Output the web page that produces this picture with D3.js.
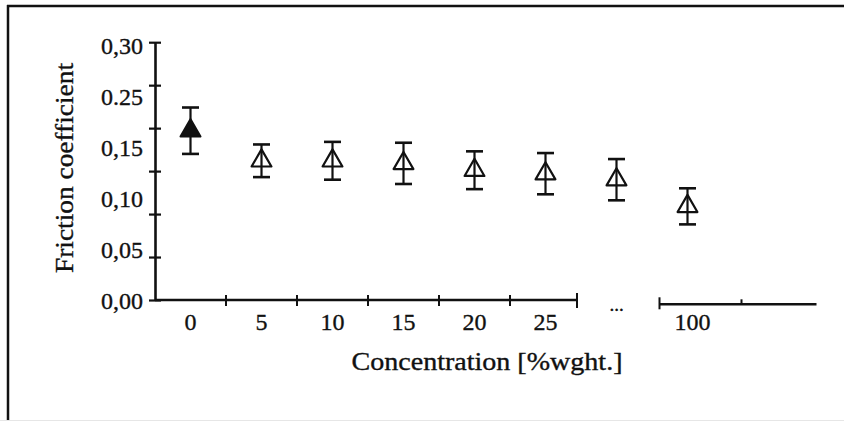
<!DOCTYPE html>
<html>
<head>
<meta charset="utf-8">
<script src="https://cdn.jsdelivr.net/npm/d3@7"></script>
<style>
  html, body { margin: 0; padding: 0; background: #fff; }
  svg { display: block; }
  text { font-family: "Liberation Serif", "Times New Roman", serif; fill: #111; stroke: #111; stroke-width: 0.35px; }
</style>
</head>
<body>
<svg id="chart" width="844" height="421"></svg>
<script>
// Concentration categories (the unlabelled "..." slot is a point on the broken axis)
const categories = ["0", "5", "10", "15", "20", "25", "...", "100"];
// Mean friction coefficient and its standard deviation per concentration
const frictionMean = [0.197, 0.162, 0.162, 0.159, 0.151, 0.147, 0.140, 0.109];
const frictionErr  = [0.027, 0.019, 0.022, 0.024, 0.022, 0.024, 0.024, 0.021];
// The reference sample (0 %) is drawn filled
const filled = [true, false, false, false, false, false, false, false];
// Y axis tick marks and the printed tick labels (bottom to top)
const yTickValues = [0, 0.05, 0.10, 0.15, 0.20, 0.25, 0.30];
const yTickLabels = ["0,00", "0,05", "0,10", "0,15", "0.25", "0,30"];
const xTitle = "Concentration [%wght.]";
const yTitle = "Friction coefficient";

const svg = d3.select("#chart");
const ink = "#111";

// frame: top and left rules, faint bottom edge
svg.append("line").attr("x1", 7).attr("x2", 844).attr("y1", 6).attr("y2", 6)
  .attr("stroke", ink).attr("stroke-width", 2.5);
svg.append("line").attr("x1", 8).attr("x2", 8).attr("y1", 5).attr("y2", 421)
  .attr("stroke", ink).attr("stroke-width", 2.5);
svg.append("line").attr("x1", 0).attr("x2", 844).attr("y1", 420.5).attr("y2", 420.5)
  .attr("stroke", "#e6e6e6").attr("stroke-width", 1);

const x0 = 155, step = 71;
const x = d3.scaleBand().domain(categories)
  .range([x0, x0 + step * categories.length]).paddingInner(0).paddingOuter(0);
const y = d3.scaleLinear().domain([0, 0.30]).range([300, 42.2]);
const cx = c => x(c) + x.bandwidth() / 2;

// ---- Y axis ----
const yAxis = d3.axisLeft(y).tickValues(yTickValues).tickFormat("").tickSizeOuter(0).tickSizeInner(6);
const gy = svg.append("g").attr("transform", `translate(${x0},0)`).call(yAxis);
gy.select(".domain").attr("stroke", ink).attr("stroke-width", 2.6);
gy.selectAll(".tick line").attr("x1", -6).attr("x2", 6).attr("stroke", ink).attr("stroke-width", 2.2);

const labelY = d3.scaleLinear().domain([0, yTickLabels.length - 1]).range([y(0) + 0.5, y(0.30) + 3]);
svg.append("g").selectAll("text").data(yTickLabels).join("text")
  .attr("x", x0 - 12).attr("y", (d, i) => labelY(i)).attr("dy", "0.35em")
  .attr("text-anchor", "end").attr("font-size", 24)
  .text(d => d);

// ---- X axis (broken) ----
const baseY = y(0);
const firstEnd = x("...") - 4;
const gx = svg.append("g");
gx.append("line").attr("x1", x0).attr("x2", firstEnd).attr("y1", baseY).attr("y2", baseY)
  .attr("stroke", ink).attr("stroke-width", 2.4);
gx.selectAll("line.tk").data(categories.slice(1, 6)).join("line").attr("class", "tk")
  .attr("x1", d => x(d)).attr("x2", d => x(d)).attr("y1", baseY - 5).attr("y2", baseY + 6)
  .attr("stroke", ink).attr("stroke-width", 2);
gx.append("line").attr("x1", firstEnd).attr("x2", firstEnd).attr("y1", baseY - 7).attr("y2", baseY + 8)
  .attr("stroke", ink).attr("stroke-width", 2);

// second piece of the axis, around the 100 % category
const c100 = cx("100");
const segY = baseY + 4.3;
const segStart = c100 - 28, segTick = c100 + 54, segEnd = c100 + 129;
gx.append("line").attr("x1", segStart).attr("x2", segEnd).attr("y1", segY).attr("y2", segY)
  .attr("stroke", ink).attr("stroke-width", 2.4);
gx.append("line").attr("x1", segStart).attr("x2", segStart).attr("y1", segY - 7).attr("y2", segY + 5)
  .attr("stroke", ink).attr("stroke-width", 2);
gx.append("line").attr("x1", segTick).attr("x2", segTick).attr("y1", segY - 5).attr("y2", segY)
  .attr("stroke", ink).attr("stroke-width", 2);

// category labels
gx.selectAll("text.cat").data(categories).join("text").attr("class", "cat")
  .attr("x", d => cx(d) + (d === "100" ? 5 : 0))
  .attr("y", d => d === "..." ? baseY + 10.5 : baseY + 30)
  .attr("text-anchor", "middle")
  .attr("font-size", d => d === "..." ? 19 : 24)
  .text(d => d);

// ---- axis titles ----
svg.append("text").attr("x", 487).attr("y", 370).attr("text-anchor", "middle")
  .attr("font-size", 25).attr("textLength", 271).attr("lengthAdjust", "spacingAndGlyphs")
  .text(xTitle);
svg.append("text").attr("transform", "translate(73,168) rotate(-90)").attr("text-anchor", "middle")
  .attr("font-size", 25).attr("textLength", 210).attr("lengthAdjust", "spacingAndGlyphs")
  .text(yTitle);

// ---- error bars and markers ----
const pts = categories.map((c, i) => ({ c, m: frictionMean[i], e: frictionErr[i], f: filled[i] }));
const gp = svg.append("g");
const capW = 8.5;
gp.selectAll("line.eb").data(pts).join("line").attr("class", "eb")
  .attr("x1", d => cx(d.c)).attr("x2", d => cx(d.c))
  .attr("y1", d => y(d.m + d.e)).attr("y2", d => y(d.m - d.e))
  .attr("stroke", ink).attr("stroke-width", 2.2);
["top", "bot"].forEach(k => {
  gp.selectAll("line.cap" + k).data(pts).join("line").attr("class", "cap" + k)
    .attr("x1", d => cx(d.c) - capW).attr("x2", d => cx(d.c) + capW)
    .attr("y1", d => y(k === "top" ? d.m + d.e : d.m - d.e))
    .attr("y2", d => y(k === "top" ? d.m + d.e : d.m - d.e))
    .attr("stroke", ink).attr("stroke-width", 2.6);
});
const tri = d3.symbol(d3.symbolTriangle, 170);
gp.selectAll("path.mk").data(pts).join("path").attr("class", "mk")
  .attr("d", tri)
  .attr("transform", d => `translate(${cx(d.c)},${y(d.m)})`)
  .attr("fill", d => d.f ? ink : "none")
  .attr("stroke", ink).attr("stroke-width", 2.2).attr("stroke-linejoin", "round");
</script>
</body>
</html>
